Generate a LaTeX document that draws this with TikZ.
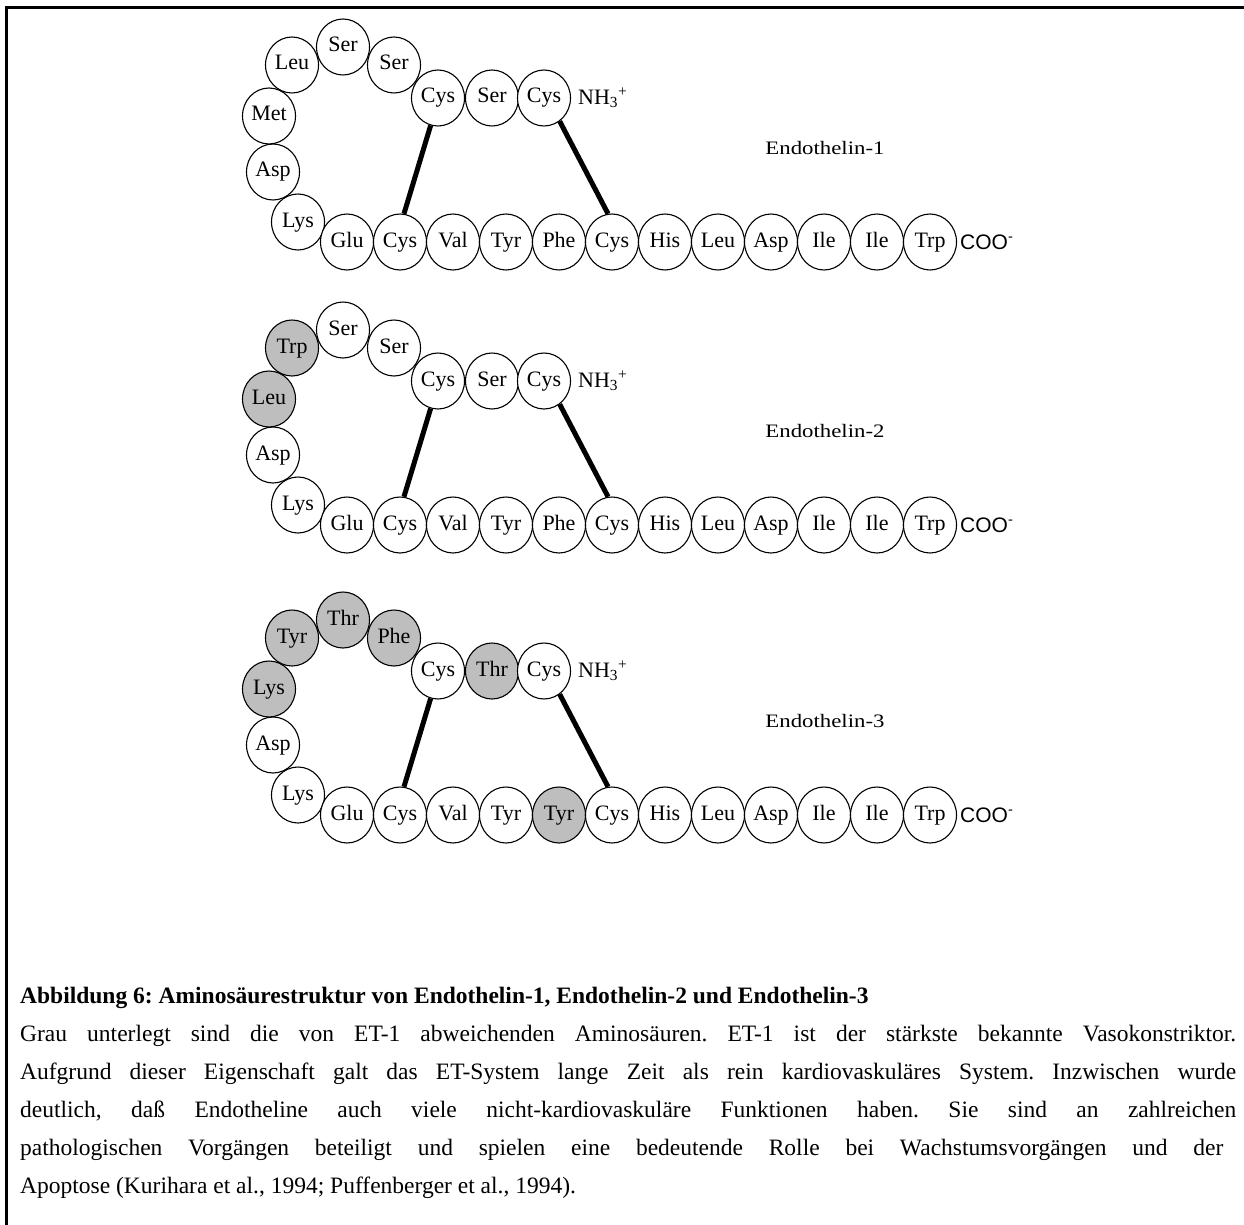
\documentclass[tikz,border=0pt]{standalone}
\usepackage{fontspec}
\setmainfont{Liberation Serif}
\newfontfamily\arialf{Liberation Sans}
\usetikzlibrary{shapes.geometric}
\definecolor{aagray}{RGB}{190,190,190}
\frenchspacing
% #1 prefix, #2 vertical offset, #3 loop+top residues, #4 bottom residues, #5 number
\newcommand{\peptide}[5]{%
  \foreach \t/\s [count=\i] in {#3} {
    \pgfmathsetmacro\px{{298,273,269,292,343,394,438,492,544}[\i-1]}
    \pgfmathsetmacro\py{{222,172,116,65,47,65,98,98,98}[\i-1]+#2}
    \node[aa, fill=\s] (#1a\i) at (\px,\py) {\t};
  }
  \foreach \t/\s [count=\i] in {#4} {
    \pgfmathsetmacro\px{347+53*(\i-1)}
    \pgfmathsetmacro\py{242+#2}
    \node[aa, fill=\s] (#1b\i) at (\px,\py) {\t};
  }
  \draw[bond] (#1a7.-105) -- (#1b2.82);
  \draw[bond] (#1a9.-56) -- (#1b6.98);
  \node[term] (#1n) at (578,98+#2) {NH\textsubscript{3}\textsuperscript{+}};
  \node[term, font=\arialf\fontsize{21}{24}\selectfont] (#1c) at (960,242+#2) {COO\textsuperscript{-}};
  \node[lbl] (#1l) at (825,148+#2) {\scalebox{1.2}[1]{Endothelin-#5}};
}
\begin{document}
\begin{tikzpicture}[x=1pt,y=-1pt,
  aa/.style={ellipse, draw, line width=1.1pt, minimum width=53pt, minimum height=56pt,
    inner sep=0pt, text height=15pt, text depth=5pt, font=\fontsize{22}{24}\selectfont},
  bond/.style={line width=5pt},
  term/.style={inner sep=0pt, anchor=west, font=\fontsize{22}{24}\selectfont},
  lbl/.style={inner sep=0pt, font=\fontsize{19}{22}\selectfont},
  captxt/.style={inner sep=0pt, anchor=base west, font=\fontsize{23.5}{28}\selectfont}]
\useasboundingbox (0,0) rectangle (1244,1225);
\fill[white] (0,0) rectangle (1244,1225);
\draw[line width=3pt] (6.5,1225) -- (6.5,7.5) -- (1244,7.5);

\peptide{e}{0}{Lys/white,Asp/white,Met/white,Leu/white,Ser/white,Ser/white,Cys/white,Ser/white,Cys/white}
  {Glu/white,Cys/white,Val/white,Tyr/white,Phe/white,Cys/white,His/white,Leu/white,Asp/white,Ile/white,Ile/white,Trp/white}{1}
\peptide{f}{283}{Lys/white,Asp/white,Leu/aagray,Trp/aagray,Ser/white,Ser/white,Cys/white,Ser/white,Cys/white}
  {Glu/white,Cys/white,Val/white,Tyr/white,Phe/white,Cys/white,His/white,Leu/white,Asp/white,Ile/white,Ile/white,Trp/white}{2}
\peptide{g}{573}{Lys/white,Asp/white,Lys/aagray,Tyr/aagray,Thr/aagray,Phe/aagray,Cys/white,Thr/aagray,Cys/white}
  {Glu/white,Cys/white,Val/white,Tyr/white,Tyr/aagray,Cys/white,His/white,Leu/white,Asp/white,Ile/white,Ile/white,Trp/white}{3}

\node[captxt, font=\bfseries\fontsize{23.5}{28}\selectfont] (c0) at (20,1003)
  {Abbildung 6: Aminosäurestruktur von Endothelin-1, Endothelin-2 und Endothelin-3};
\node[captxt] (c1) at (20,1041) {\hbox to 1216pt{Grau unterlegt sind die von ET-1 abweichenden Aminosäuren. ET-1 ist der stärkste bekannte Vasokonstriktor.}};
\node[captxt] (c2) at (20,1079) {\hbox to 1216pt{Aufgrund dieser Eigenschaft galt das ET-System lange Zeit als rein kardiovaskuläres System. Inzwischen wurde}};
\node[captxt] (c3) at (20,1117) {\hbox to 1216pt{deutlich, daß Endotheline auch viele nicht-kardiovaskuläre Funktionen haben. Sie sind an zahlreichen}};
\node[captxt] (c4) at (20,1155) {\hbox to 1203pt{pathologischen Vorgängen beteiligt und spielen eine bedeutende Rolle bei Wachstumsvorgängen und der}};
\node[captxt] (c5) at (20,1193) {Apoptose (Kurihara et al., 1994; Puffenberger et al., 1994).};
\end{tikzpicture}
\end{document}
